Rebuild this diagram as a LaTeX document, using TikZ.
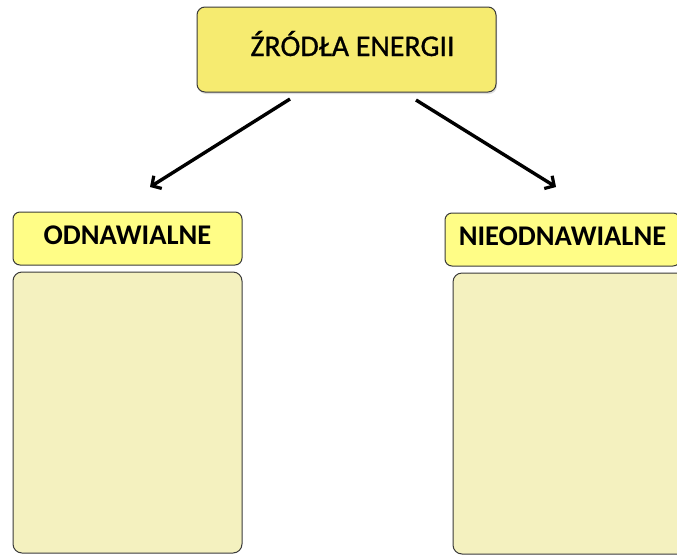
\documentclass[tikz,border=0pt]{standalone}
\usepackage{fontspec}
\setmainfont{Carlito}
\usetikzlibrary{shadows,arrows.meta}
\definecolor{topfill}{HTML}{F6EB70}
\definecolor{headfill}{HTML}{FFFD86}
\definecolor{boxfill}{HTML}{F4F1BF}
\definecolor{edge}{HTML}{3A3A3A}
\tikzset{
  base/.style={draw=edge, line width=1pt, rounded corners=8pt, inner sep=0pt, anchor=center},
  topbox/.style={base, fill=topfill, drop shadow={shadow xshift=1pt, shadow yshift=-2pt, opacity=0.25}},
  headbox/.style={base, fill=headfill, rounded corners=7pt},
  contentbox/.style={base, fill=boxfill, rounded corners=9pt},
  lbl/.style={text=black, inner sep=0pt, anchor=base},
  arr/.style={line width=3.4pt, -{Straight Barb[length=7pt, width=15pt, line width=3.2pt]}}
}
\begin{document}
\begin{tikzpicture}[x=1pt,y=-1pt]
\useasboundingbox (0,0) rectangle (677,555);
\clip (0,0) rectangle (677,555);
\node[topbox, minimum width=299pt, minimum height=85pt] (top) at (346.5,49.5) {};
\node[lbl, font=\addfontfeature{FakeBold=0.8}\fontsize{30}{34}\selectfont] (toptext) at (352.5,56) {ŹRÓDŁA ENERGII};
\node[headbox, minimum width=229pt, minimum height=53pt] (lhead) at (127.5,238.5) {};
\node[lbl, font=\bfseries\fontsize{28.5}{32}\selectfont] (ltext) at (127.5,244) {ODNAWIALNE};
\node[contentbox, minimum width=229pt, minimum height=281pt] (lbox) at (127.5,412.5) {};
\node[headbox, minimum width=235pt, minimum height=53pt] (rhead) at (562.5,239.5) {};
\node[lbl, font=\bfseries\fontsize{28.5}{32}\selectfont] (rtext) at (562.5,245) {NIEODNAWIALNE};
\node[contentbox, minimum width=237pt, minimum height=281pt] (rbox) at (571.5,413.5) {};
\coordinate (a1s) at (290,99);
\coordinate (a1e) at (150,187);
\coordinate (a2s) at (416,100);
\coordinate (a2e) at (556,187);
\draw[arr] (a1s) -- (a1e);
\draw[arr] (a2s) -- (a2e);
\end{tikzpicture}
\end{document}
